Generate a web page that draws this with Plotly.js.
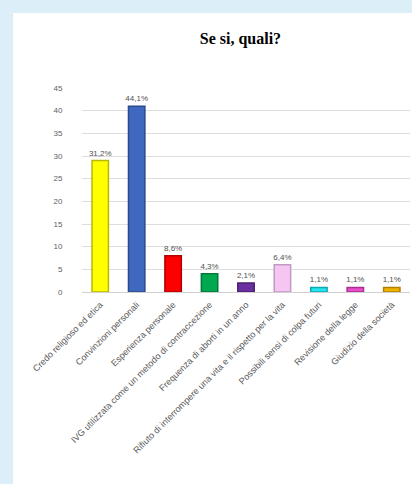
<!DOCTYPE html>
<html>
<head>
<meta charset="utf-8">
<script src="https://cdn.plot.ly/plotly-3.0.1.min.js"></script>
<style>
  html, body { margin:0; padding:0; background:#dcEEF7; width:412px; height:484px; overflow:hidden; }
  #panel { position:absolute; left:13px; top:13px; width:399px; height:471px; background:#ffffff; }
  #chart { position:absolute; left:0; top:0; width:399px; height:471px; }
</style>
</head>
<body>
<div id="panel"><div id="chart"></div></div>
<script>
const categories = [
  "Credo religioso ed etica",
  "Convinzioni personali",
  "Esperienza personale",
  "IVG utilizzata come un metodo di contraccezione",
  "Frequenza di aborti in un anno",
  "Rifiuto di interrompere una vita e il rispetto per la vita",
  "Possibili sensi di colpa futuri",
  "Revisione della legge",
  "Giudizio della società"
];
const counts = [29, 41, 8, 4, 2, 6, 1, 1, 1];
const percentLabels = ["31,2%", "44,1%", "8,6%", "4,3%", "2,1%", "6,4%", "1,1%", "1,1%", "1,1%"];
const barColors = ["#ffff00", "#3f68c0", "#ff0000", "#00a850", "#6a2fa0", "#f6c6f2", "#22e6f0", "#e84cc8", "#f0b400"];
const edgeColors = ["#b8b800", "#2a4a8c", "#b00000", "#007a38", "#4a2070", "#c09ac0", "#10a8b0", "#a83090", "#b08000"];
const yTicks = [0, 5, 10, 15, 20, 25, 30, 35, 40, 45];

const trace = {
  type: "bar",
  x: categories,
  y: counts,
  text: percentLabels,
  textposition: "outside",
  constraintext: "none",
  textfont: { family: "Liberation Sans, sans-serif", size: 8, color: "#505050" },
  cliponaxis: false,
  width: 0.45,
  marker: { color: barColors, line: { color: edgeColors, width: 1.5 } },
  hoverinfo: "none"
};

const layout = {
  width: 399, height: 471,
  margin: { l: 69, r: 2, t: 75, b: 192 },
  paper_bgcolor: "#ffffff",
  plot_bgcolor: "#ffffff",
  showlegend: false,
  title: { text: "<b>Se si, quali?</b>", x: 0.57, xanchor: "center", y: 0.947, yanchor: "middle",
           font: { family: "Liberation Serif, serif", size: 16, color: "#000000" } },
  xaxis: {
    tickangle: -45,
    tickfont: { family: "Liberation Sans, sans-serif", size: 9, color: "#595959" },
    showline: false, showgrid: false, ticks: "outside", ticklen: 3, tickcolor: "rgba(0,0,0,0)", automargin: false
  },
  yaxis: {
    range: [0, 45],
    tickvals: yTicks,
    tickfont: { family: "Liberation Sans, sans-serif", size: 8, color: "#606060" },
    showgrid: true, gridcolor: "#dedede", gridwidth: 1,
    zeroline: true, zerolinecolor: "#d0d0d0",
    showline: false,
    ticks: "outside", ticklen: 17, tickcolor: "rgba(0,0,0,0)",
    automargin: false
  }
};

Plotly.newPlot("chart", [trace], layout, { displayModeBar: false, staticPlot: true });
</script>
</body>
</html>
